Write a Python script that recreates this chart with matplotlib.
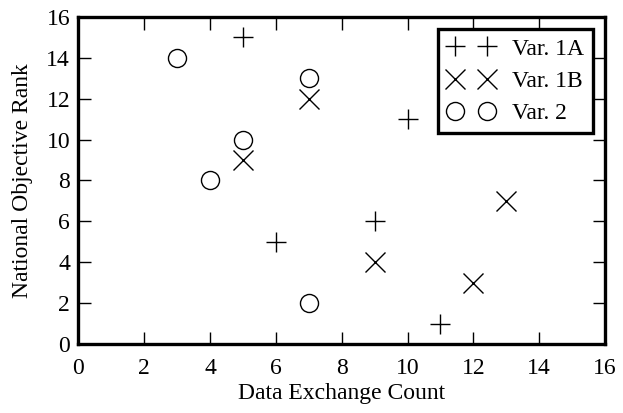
import numpy as np
import matplotlib
matplotlib.use('Agg')
import matplotlib.pyplot as plt

plt.rcParams['font.family'] = ['Liberation Serif', 'DejaVu Serif']
plt.rcParams['font.size'] = 17

# data
x_1a = [5, 6, 9, 10, 11]
y_1a = [15, 5, 6, 11, 1]
x_1b = [5, 7, 9, 12, 13]
y_1b = [9, 12, 4, 3, 7]
x_2 = [3, 4, 5, 7, 7]
y_2 = [14, 8, 10, 13, 2]

fig = plt.figure(figsize=(6.23, 4.13), dpi=100)
ax = fig.add_axes([0.126, 0.167, 0.845, 0.792])

ax.plot(x_1a, y_1a, '+', color='black', ms=14.5, mew=1.0, label='Var. 1A')
ax.plot(x_1b, y_1b, 'x', color='black', ms=14, mew=1.0, label='Var. 1B')
ax.plot(x_2, y_2, 'o', mfc='none', mec='black', ms=13, mew=1.0, label='Var. 2')

ax.set_xlim(0, 16)
ax.set_ylim(0, 16)
ax.set_xticks(np.arange(0, 17, 2))
ax.set_yticks(np.arange(0, 17, 2))
ax.tick_params(direction='in', length=9, width=1, top=True, right=True, labelsize=17, pad=6)
ax.tick_params(axis='x', pad=10)
for s in ax.spines.values():
    s.set_linewidth(2.4)

ax.set_xlabel('Data Exchange Count', labelpad=3)
ax.set_ylabel('National Objective Rank', labelpad=10)

leg = ax.legend(loc='upper right', numpoints=2, fancybox=False, framealpha=1,
                edgecolor='black', handletextpad=0.75, borderpad=0.4, labelspacing=0.45,
                handlelength=1.96, borderaxespad=0.5)
leg.get_frame().set_linewidth(2.4)

fig.savefig('out.png', dpi=100)
